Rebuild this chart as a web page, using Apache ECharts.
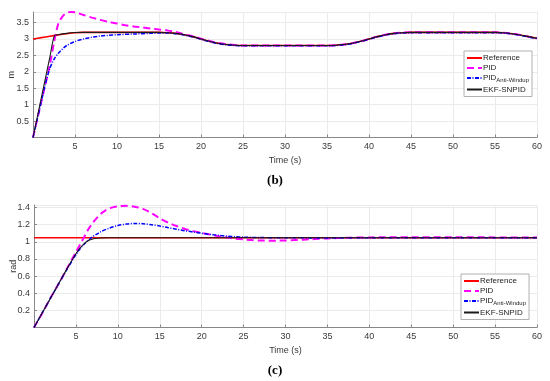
<!DOCTYPE html>
<html><head><meta charset="utf-8">
<script src="https://cdn.jsdelivr.net/npm/echarts@6/dist/echarts.min.js"></script>
<style>html,body{margin:0;padding:0;background:#fff}#c{width:550px;height:381px}</style>
</head><body><div id="c"></div>
<script>
// ---------- Panel (b): position (m) ----------
var refT_b = [0,1,2,3,4,5,6,15,16,17,18,19,20,21,22,23,24,25,35,36,37,38,39,40,41,42,43,44,45,55,56,57,58,59,60];
var refV_b = [3.0,3.04,3.08,3.12,3.16,3.19,3.2,3.2,3.19,3.17,3.13,3.07,3.0,2.93,2.87,2.83,2.81,2.8,2.8,2.81,2.83,2.87,2.93,3.0,3.07,3.13,3.17,3.19,3.2,3.2,3.19,3.16,3.12,3.07,3.02];

var pidT_b = [0,1,2,2.5,3,3.5,4,4.5,5,6,7,8,9,10,11,12,13,14,15,16,17,18,19,20,21,22,23,24,25,35,36,37,38,39,40,41,42,43,44,45,55,56,57,58,59,60];
var pidV_b = [0,1.1,2.2,2.9,3.45,3.68,3.79,3.82,3.81,3.73,3.65,3.58,3.52,3.47,3.42,3.38,3.35,3.32,3.29,3.26,3.21,3.14,3.08,3.01,2.94,2.88,2.84,2.815,2.8,2.8,2.81,2.83,2.87,2.93,3.0,3.07,3.13,3.17,3.19,3.2,3.2,3.19,3.16,3.12,3.07,3.02];

var awT_b = [0,1,1.5,2,2.5,3,3.5,4,5,6,7,8,9,10,12,14,15,16,17,18,19,20,21,22,23,24,25,35,36,37,38,39,40,41,42,43,44,45,55,56,57,58,59,60];
var awV_b = [0,1.1,1.65,2.1,2.38,2.56,2.69,2.8,2.92,3.0,3.05,3.09,3.11,3.13,3.15,3.17,3.18,3.18,3.16,3.12,3.06,2.99,2.92,2.86,2.82,2.8,2.79,2.79,2.8,2.82,2.86,2.92,2.99,3.06,3.12,3.16,3.18,3.19,3.19,3.18,3.15,3.11,3.06,3.01];

var ekfT_b = [0,1,2,2.55,3,4,5,6,15,16,17,18,19,20,21,22,23,24,25,35,36,37,38,39,40,41,42,43,44,45,55,56,57,58,59,60];
var ekfV_b = [0,1.22,2.44,3.1,3.13,3.17,3.195,3.2,3.2,3.19,3.17,3.13,3.07,3.0,2.93,2.87,2.83,2.81,2.8,2.8,2.81,2.83,2.87,2.93,3.0,3.07,3.13,3.17,3.19,3.2,3.2,3.19,3.16,3.12,3.07,3.02];

// ---------- Panel (c): angle (rad) ----------
var refT_c = [0,60];
var refV_c = [1.047,1.047];

var pidT_c = [0,1,2,3,4,5,5.5,6,6.5,7,7.5,8,8.5,9,9.5,10,11,12,13,14,15,16,17,18,19,20,21,22,23,24,25,26,27,28,29,30,31,32,33,34,35,37.5,40,45,50,55,60];
var pidV_c = [0,0.17,0.35,0.52,0.7,0.88,0.97,1.06,1.15,1.22,1.28,1.33,1.365,1.39,1.405,1.415,1.42,1.41,1.385,1.335,1.275,1.225,1.185,1.15,1.125,1.105,1.085,1.065,1.05,1.038,1.028,1.02,1.016,1.014,1.014,1.016,1.02,1.025,1.03,1.035,1.04,1.047,1.052,1.054,1.053,1.052,1.05];

var awT_c = [0,1,2,3,4,5,5.5,6,6.5,7,7.5,8,9,10,11,12,13,14,15,16,17,18,19,20,21,22,23,24,25,27,30,35,40,60];
var awV_c = [0,0.174,0.348,0.52,0.69,0.85,0.92,0.975,1.02,1.06,1.09,1.12,1.16,1.19,1.207,1.215,1.212,1.2,1.185,1.165,1.148,1.13,1.115,1.1,1.087,1.076,1.067,1.06,1.055,1.05,1.047,1.046,1.047,1.047];

var ekfT_c = [0,1,2,3,4,5,5.5,6,6.5,7,7.5,8,9,10,60];
var ekfV_c = [0,0.174,0.348,0.522,0.696,0.86,0.93,0.98,1.015,1.033,1.042,1.045,1.047,1.047,1.047];

var xTicks = {min:0, max:60, interval:5};
var names = ['Reference','PID','PID Anti-Windup','EKF-SNPID'];

function pairs(t,v){return t.map(function(x,i){return [x,v[i]];});}

var styles = [
  {color:'#ff0000', width:1.6, type:'solid'},
  {color:'#ff00ff', width:2, type:[7,4]},
  {color:'#0000ff', width:1.5, type:[4,1.5,1,1.5]},
  {color:'#1a1a1a', width:1.1, type:'solid'}
];

function mkSeries(idx, data){
  var s = [];
  for (var i=0;i<4;i++){
    s.push({type:'line', name:names[i], xAxisIndex:idx, yAxisIndex:idx, data:data[i],
      symbol:'none', showSymbol:false, smooth:0.3, animation:false,
      lineStyle:{color:styles[i].color, width:styles[i].width, type:styles[i].type},
      itemStyle:{color:styles[i].color}, z:2+i});
  }
  return s;
}

var FONT = 'Liberation Sans, Arial, sans-serif';
var labelStyle = {color:'#3a3a3a', fontSize:9, fontFamily:FONT};
function xAxis(idx){
  return {type:'value', gridIndex:idx, min:xTicks.min, max:xTicks.max, interval:xTicks.interval,
    name:'Time (s)', nameLocation:'middle', nameGap:19, nameMoveOverlap:false,
    nameTextStyle:{color:'#3a3a3a', fontSize:9, fontFamily:FONT},
    axisLine:{show:true, lineStyle:{color:'#888'}},
    axisTick:{show:true, inside:true, length:3, lineStyle:{color:'#888'}},
    axisLabel:Object.assign({showMinLabel:false, margin:5}, labelStyle),
    splitLine:{show:true, lineStyle:{color:'#ebebeb', width:1}}};
}
function yAxis(idx, max, interval, name, gap){
  return {type:'value', gridIndex:idx, min:0, max:max, interval:interval,
    name:name, nameLocation:'middle', nameGap:gap, nameMoveOverlap:false,
    nameTextStyle:{color:'#3a3a3a', fontSize:9, fontFamily:FONT},
    axisLine:{show:true, lineStyle:{color:'#888'}},
    axisTick:{show:true, inside:true, length:3, lineStyle:{color:'#888'}},
    axisLabel:Object.assign({showMinLabel:false, showMaxLabel:false, margin:4}, labelStyle),
    splitLine:{show:true, lineStyle:{color:'#ebebeb', width:1}}};
}
function legend(left, top){
  return {orient:'vertical', left:left, top:top, data:names, itemWidth:15, itemHeight:8, itemGap:2,
    backgroundColor:'#fff', borderColor:'#b0b0b0', borderWidth:1, padding:[3,3,3,2],
    itemStyle:{opacity:0},
    textStyle:{color:'#222', fontSize:8, fontFamily:FONT, padding:[0,0,0,-4],
      rich:{a:{fontSize:8, fontFamily:FONT, color:'#222'}, s:{fontSize:6, fontFamily:FONT, color:'#222', padding:[5,0,0,0]}}},
    formatter:function(n){ return n==='PID Anti-Windup' ? '{a|PID}{s|Anti-Windup}' : n; }};
}

var chart = echarts.init(document.getElementById('c'), null, {renderer:'canvas'});
chart.setOption({
  backgroundColor:'#fff',
  animation:false,
  title:[
    {text:'(b)', left:'center', top:169, textStyle:{fontFamily:'Liberation Serif, Times New Roman, serif', fontWeight:'bold', fontSize:13, color:'#000'}},
    {text:'(c)', left:'center', top:359, textStyle:{fontFamily:'Liberation Serif, Times New Roman, serif', fontWeight:'bold', fontSize:13, color:'#000'}}
  ],
  grid:[
    {left:33, right:13, top:12, height:125.5, containLabel:false, outerBoundsMode:'none'},
    {left:34, right:13, top:205, height:122.5, containLabel:false, outerBoundsMode:'none'}
  ],
  legend:[legend(464,51), legend(461,274)],
  xAxis:[xAxis(0), xAxis(1)],
  yAxis:[yAxis(0,3.82,0.5,'m',17), yAxis(1,1.43,0.2,'rad',16)],
  series: mkSeries(0,[pairs(refT_b,refV_b),pairs(pidT_b,pidV_b),pairs(awT_b,awV_b),pairs(ekfT_b,ekfV_b)])
    .concat(mkSeries(1,[pairs(refT_c,refV_c),pairs(pidT_c,pidV_c),pairs(awT_c,awV_c),pairs(ekfT_c,ekfV_c)]))
});
</script></body></html>
